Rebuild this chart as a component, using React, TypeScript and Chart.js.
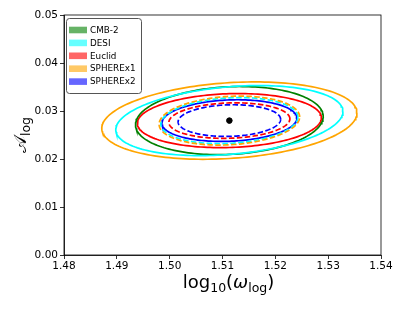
import React, { useEffect, useRef } from "react";
import { Chart, registerables } from "chart.js";

Chart.register(...registerables);

// Fiducial point
const centerX = 1.5113;
const centerY = 0.028;

// Contours: half-widths (x), half-heights (y), correlation, colour, dashed
const contourNames = ["SPHEREx1", "DESI", "CMB-2", "Euclid", "SPHEREx1 comb", "DESI comb", "SPHEREx2", "Euclid comb", "SPHEREx2 comb"];
const contourHalfX = [0.02415, 0.0215, 0.01776, 0.01742, 0.0133, 0.01297, 0.01278, 0.01145, 0.0097];
const contourHalfY = [0.00806, 0.0073, 0.0071, 0.00563, 0.0051, 0.0048, 0.00434, 0.0037, 0.0033];
const contourRho = [0.2, 0.26, 0.12, 0.1, 0.15, 0.15, 0.12, 0.1, 0.08];
const contourColors = ["#FFA500", "#00FFFF", "#008000", "#FF0000", "#FFA500", "#00FFFF", "#0000FF", "#FF0000", "#0000FF"];
const contourDashed = [false, false, false, false, true, true, false, true, true];

// Legend
const legendLabels = ["CMB-2", "DESI", "Euclid", "SPHEREx1", "SPHEREx2"];
const legendColors = ["rgba(0,128,0,0.6)", "rgba(0,255,255,0.6)", "rgba(255,0,0,0.6)", "rgba(255,165,0,0.6)", "rgba(0,0,255,0.6)"];

// Axes
const xTicks = [1.48, 1.49, 1.5, 1.51, 1.52, 1.53, 1.54];
const yTicks = [0.0, 0.01, 0.02, 0.03, 0.04, 0.05];

const N_PTS = 180;

function ellipsePoints(hx: number, hy: number, rho: number) {
  const pts: { x: number; y: number }[] = [];
  const s = Math.sqrt(1 - rho * rho);
  for (let i = 0; i <= N_PTS; i++) {
    const t = (i / N_PTS) * Math.PI * 2;
    pts.push({
      x: centerX + hx * Math.cos(t),
      y: centerY + hy * (rho * Math.cos(t) + s * Math.sin(t)),
    });
  }
  return pts;
}

const FONT = "'DejaVu Sans', sans-serif";

const decorPlugin = {
  id: "decor",
  afterDraw(chart: any) {
    const ctx = chart.ctx as CanvasRenderingContext2D;
    const a = chart.chartArea;
    ctx.save();
    // frame
    ctx.strokeStyle = "#000";
    ctx.lineWidth = 0.8;
    ctx.strokeRect(a.left, a.top, a.right - a.left, a.bottom - a.top);

    // legend
    const lx = 66.5, ly = 18.5, lw = 75, lh = 75;
    ctx.fillStyle = "rgba(255,255,255,0.8)";
    ctx.strokeStyle = "#555555";
    ctx.lineWidth = 1;
    ctx.beginPath();
    (ctx as any).roundRect(lx, ly, lw, lh, 3);
    ctx.fill();
    ctx.stroke();
    ctx.font = `8.8px ${FONT}`;
    ctx.textBaseline = "middle";
    ctx.textAlign = "left";
    legendLabels.forEach((lab, i) => {
      const cy = 30 + i * 12.9;
      ctx.fillStyle = legendColors[i];
      ctx.fillRect(69, cy - 3.3, 18, 6.6);
      ctx.fillStyle = "#000";
      ctx.fillText(lab, 90, cy + 0.5);
    });

    // x title: log10(ω_log)
    const big = 18, small = 12.5;
    const parts: [string, string][] = [["log", "n"], ["10", "s"], ["(", "n"], ["ω", "i"], ["log", "s"], [")", "n"]];
    const fontFor = (k: string) => (k === "s" ? `${small}px ${FONT}` : k === "i" ? `italic ${big}px ${FONT}` : `${big}px ${FONT}`);
    let total = 0;
    parts.forEach(([t, k]) => {
      ctx.font = fontFor(k);
      total += ctx.measureText(t).width;
    });
    let x = (a.left + a.right) / 2 - total / 2 + 6;
    const base = 288;
    ctx.fillStyle = "#000";
    ctx.textBaseline = "alphabetic";
    parts.forEach(([t, k]) => {
      ctx.font = fontFor(k);
      ctx.fillText(t, x, k === "s" ? base + 3.5 : base);
      x += ctx.measureText(t).width;
    });

    // y title: 𝒜_log
    ctx.translate(26, (a.top + a.bottom) / 2);
    ctx.rotate(-Math.PI / 2);
    const yparts: [string, boolean][] = [["𝒜", false], ["log", true]];
    let tw = 0;
    yparts.forEach(([t, sub]) => {
      ctx.font = sub ? `${small}px ${FONT}` : `${big}px ${FONT}`;
      tw += ctx.measureText(t).width;
    });
    let yx = -tw / 2;
    yparts.forEach(([t, sub]) => {
      ctx.font = sub ? `${small}px ${FONT}` : `${big}px ${FONT}`;
      ctx.fillText(t, yx, sub ? 3.5 : 0);
      yx += ctx.measureText(t).width;
    });
    ctx.restore();
  },
};

export default function App() {
  const ref = useRef<HTMLCanvasElement | null>(null);
  useEffect(() => {
    if (!ref.current) return;
    const datasets: any[] = contourNames.map((name, i) => ({
      label: name,
      data: ellipsePoints(contourHalfX[i], contourHalfY[i], contourRho[i]),
      showLine: true,
      borderColor: contourColors[i],
      borderWidth: 1.7,
      borderDash: contourDashed[i] ? [5.5, 2.4] : [],
      pointRadius: 0,
      fill: false,
      tension: 0,
    }));
    datasets.push({
      label: "fiducial",
      data: [{ x: centerX, y: centerY }],
      pointRadius: 2.8,
      pointBackgroundColor: "#000",
      pointBorderColor: "#000",
      showLine: false,
    });
    const chart = new Chart(ref.current, {
      type: "scatter",
      data: { datasets },
      plugins: [decorPlugin],
      options: {
        responsive: false,
        animation: false,
        layout: { padding: { left: 0, right: 33, top: 15, bottom: 0 } },
        plugins: { legend: { display: false }, tooltip: { enabled: false } },
        scales: {
          x: {
            type: "linear",
            min: 1.48,
            max: 1.54,
            afterBuildTicks: (s: any) => { s.ticks = xTicks.map((v) => ({ value: v })); },
            afterFit: (s: any) => { s.height = 56; },
            grid: { display: true, drawOnChartArea: false, drawTicks: true, tickLength: 4, color: "#000", tickWidth: 0.8 },
            border: { display: true, color: "#000", width: 0.8 },
            ticks: { color: "#000", font: { family: "DejaVu Sans", size: 10.5 }, padding: 1, maxRotation: 0, callback: (v: any) => Number(v).toFixed(2) },
          },
          y: {
            type: "linear",
            min: 0,
            max: 0.05,
            afterBuildTicks: (s: any) => { s.ticks = yTicks.map((v) => ({ value: v })); },
            afterFit: (s: any) => { s.width = 64; },
            grid: { display: true, drawOnChartArea: false, drawTicks: true, tickLength: 4, color: "#000", tickWidth: 0.8 },
            border: { display: true, color: "#000", width: 0.8 },
            ticks: { color: "#000", font: { family: "DejaVu Sans", size: 10.5 }, padding: 2, callback: (v: any) => Number(v).toFixed(2) },
          },
        },
      },
    });
    return () => chart.destroy();
  }, []);
  return (
    <div style={{ position: "fixed", left: 0, top: 0, width: 414, height: 311, background: "#fff" }}>
      <canvas ref={ref} width={414} height={311} style={{ display: "block" }} />
    </div>
  );
}
